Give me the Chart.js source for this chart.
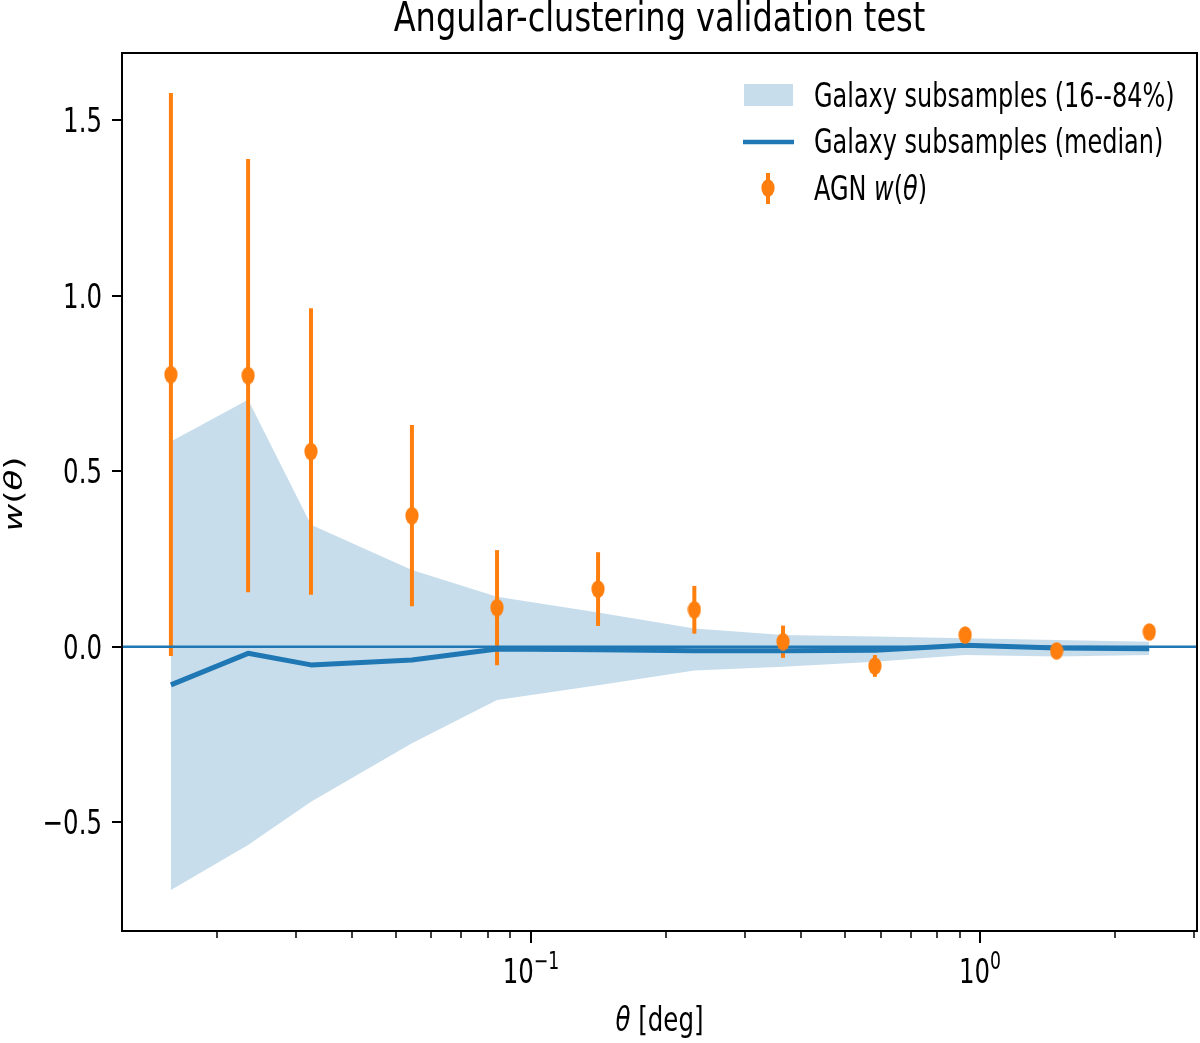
<!DOCTYPE html>
<html lang="en">
<head>
<meta charset="UTF-8">
<title>Angular-clustering validation test</title>
<script src="https://cdn.jsdelivr.net/npm/chart.js@4/dist/chart.umd.min.js"></script>
<style>
  html, body { margin: 0; padding: 0; background: #fff; width: 1200px; height: 1043px; overflow: hidden; }
  #chart { display: block; }
</style>
</head>
<body>
<canvas id="chart" width="1200" height="1043"></canvas>
<script>
// angular bins (deg)
const theta = [0.01578, 0.02344, 0.03236, 0.0543, 0.0840, 0.141, 0.231, 0.364, 0.583, 0.926, 1.48, 2.38];
// AGN w(theta) and symmetric errors
const agnW   = [0.775, 0.772, 0.556, 0.373, 0.111, 0.164, 0.105, 0.014, -0.055, 0.033, -0.012, 0.042];
const agnErr = [0.802, 0.617, 0.408, 0.258, 0.164, 0.105, 0.068, 0.046, 0.031, 0.015, 0.012, 0.012];
// galaxy subsamples: 16th / 84th percentiles and median
const galHi  = [0.584, 0.703, 0.347, 0.218, 0.142, 0.097, 0.052, 0.033, 0.029, 0.024, 0.019, 0.014];
const galLo  = [-0.693, -0.565, -0.442, -0.275, -0.152, -0.110, -0.068, -0.057, -0.043, -0.024, -0.028, -0.024];
const galMed = [-0.109, -0.019, -0.052, -0.038, -0.007, -0.009, -0.012, -0.012, -0.010, 0.004, -0.004, -0.006];

// axes
const xRange = [0.01228, 3.04];
const yRange = [-0.810, 1.691];
const xMajor = [0.1, 1];
const xMajorExp = ['\u22121', '0'];
const xMinor = [0.02, 0.03, 0.04, 0.05, 0.06, 0.07, 0.08, 0.09, 0.2, 0.3, 0.4, 0.5, 0.6, 0.7, 0.8, 0.9, 2, 3];
const yTicks = [-0.5, 0, 0.5, 1.0, 1.5];
const yTickLabels = ['\u22120.5', '0.0', '0.5', '1.0', '1.5'];

const BLUE = '#1f77b4';
const ORANGE = '#ff7f0e';
const BAND = 'rgba(31,119,180,0.25)';
const FONT = '"DejaVu Sans", "Liberation Sans", sans-serif';
const SX = 0.72; // the figure is squeezed horizontally

function pts(ys) { return theta.map((t, i) => ({ x: t, y: ys[i] })); }

// ellipse marker (squeezed circle)
const marker = document.createElement('canvas');
marker.width = 14; marker.height = 18;
(function () {
  const m = marker.getContext('2d');
  m.fillStyle = ORANGE;
  m.beginPath();
  m.ellipse(7, 9, 6.6, 8.7, 0, 0, Math.PI * 2);
  m.fill();
})();

// text helpers
function sText(ctx, str, x, y, align, font, sx) {
  sx = sx || SX;
  ctx.save();
  ctx.font = font;
  const w = ctx.measureText(str).width * sx;
  const left = align === 'center' ? x - w / 2 : align === 'right' ? x - w : x;
  ctx.translate(left, y);
  ctx.scale(sx, 1);
  ctx.textAlign = 'left';
  ctx.textBaseline = 'alphabetic';
  ctx.fillText(str, 0, 0);
  ctx.restore();
}
function richWidth(ctx, parts, size) {
  let w = 0;
  parts.forEach(p => { ctx.font = (p.it ? 'italic ' : '') + size + 'px ' + FONT; w += ctx.measureText(p.t).width; });
  return w;
}
function richDraw(ctx, parts, size, x0) {
  let x = x0;
  parts.forEach(p => {
    ctx.font = (p.it ? 'italic ' : '') + size + 'px ' + FONT;
    ctx.fillText(p.t, x, 0);
    x += ctx.measureText(p.t).width;
  });
}
const wTheta = [{ t: 'w', it: true }, { t: '(', it: false }, { t: '\u03b8', it: true }, { t: ')', it: false }];

const errorBars = {
  id: 'errorBars',
  afterDatasetDraw(chart, args) {
    if (args.index !== 3) return; // right after the band
    const { ctx, scales: { x, y } } = chart;
    ctx.save();
    ctx.strokeStyle = ORANGE;
    ctx.lineWidth = 4;
    theta.forEach((t, i) => {
      const px = x.getPixelForValue(t);
      ctx.beginPath();
      ctx.moveTo(px, y.getPixelForValue(agnW[i] - agnErr[i]));
      ctx.lineTo(px, y.getPixelForValue(agnW[i] + agnErr[i]));
      ctx.stroke();
    });
    ctx.restore();
  }
};

const frame = {
  id: 'frame',
  beforeDraw(chart) {
    const c = chart.ctx;
    c.save();
    c.fillStyle = '#fff';
    c.fillRect(0, 0, chart.width, chart.height);
    c.restore();
  },
  afterDraw(chart) {
    const { ctx, chartArea: a, scales: { x, y } } = chart;
    const tickFont = '34px ' + FONT;
    ctx.save();
    ctx.fillStyle = '#000';
    ctx.strokeStyle = '#000';

    // ticks
    ctx.lineWidth = 2;
    xMajor.forEach((v, i) => {
      const px = Math.round(x.getPixelForValue(v));
      ctx.beginPath(); ctx.moveTo(px, a.bottom); ctx.lineTo(px, a.bottom + 12); ctx.stroke();
      // 10^e label
      ctx.font = tickFont;
      const bw = ctx.measureText('10').width * SX;
      ctx.font = '24px ' + FONT;
      const ew = ctx.measureText(xMajorExp[i]).width * SX;
      const left = px - (bw + ew) / 2;
      sText(ctx, '10', left, 983, 'left', tickFont);
      sText(ctx, xMajorExp[i], left + bw, 969, 'left', '24px ' + FONT);
    });
    ctx.lineWidth = 1.5;
    xMinor.forEach(v => {
      const px = Math.round(x.getPixelForValue(v));
      ctx.beginPath(); ctx.moveTo(px, a.bottom); ctx.lineTo(px, a.bottom + 7); ctx.stroke();
    });
    ctx.lineWidth = 2;
    yTicks.forEach((v, i) => {
      const py = Math.round(y.getPixelForValue(v));
      ctx.beginPath(); ctx.moveTo(a.left - 10, py); ctx.lineTo(a.left, py); ctx.stroke();
      sText(ctx, yTickLabels[i], a.left - 20, py + 12.4, 'right', tickFont);
    });

    // spines
    ctx.lineWidth = 2;
    ctx.strokeRect(a.left, a.top, a.right - a.left, a.bottom - a.top);

    // title
    sText(ctx, 'Angular-clustering validation test', (a.left + a.right) / 2, 31, 'center', '40px ' + FONT, 0.8);

    // x label: theta [deg]
    const xl = [{ t: '\u03b8', it: true }, { t: ' [deg]', it: false }];
    ctx.save();
    const xw = richWidth(ctx, xl, 34) * SX;
    ctx.translate((a.left + a.right) / 2 - xw / 2, 1031);
    ctx.scale(SX, 1);
    richDraw(ctx, xl, 34, 0);
    ctx.restore();

    // y label: w(theta), rotated
    ctx.save();
    const yw = richWidth(ctx, wTheta, 34);
    ctx.translate(22, (a.top + a.bottom) / 2 + 2);
    ctx.rotate(-Math.PI / 2);
    ctx.scale(1, SX);
    richDraw(ctx, wTheta, 34, -yw / 2);
    ctx.restore();

    // legend
    const lx = 814;
    ctx.fillStyle = BAND;
    ctx.fillRect(744, 84, 49, 22);
    ctx.strokeStyle = BLUE;
    ctx.lineWidth = 4.5;
    ctx.beginPath(); ctx.moveTo(743, 142); ctx.lineTo(794, 142); ctx.stroke();
    ctx.strokeStyle = ORANGE;
    ctx.lineWidth = 4;
    ctx.beginPath(); ctx.moveTo(768, 173); ctx.lineTo(768, 204); ctx.stroke();
    ctx.drawImage(marker, 768 - 7, 188 - 9);
    ctx.fillStyle = '#000';
    sText(ctx, 'Galaxy subsamples (16--84%)', lx, 106.5, 'left', '34px ' + FONT, 0.705);
    sText(ctx, 'Galaxy subsamples (median)', lx, 152.5, 'left', '34px ' + FONT, 0.705);
    ctx.save();
    ctx.translate(lx, 199.5);
    ctx.scale(0.705, 1);
    ctx.font = '34px ' + FONT;
    ctx.fillText('AGN ', 0, 0);
    const agnW0 = ctx.measureText('AGN ').width;
    richDraw(ctx, wTheta, 34, agnW0);
    ctx.restore();

    ctx.restore();
  }
};

new Chart(document.getElementById('chart').getContext('2d'), {
  type: 'line',
  data: {
    datasets: [
      { label: 'AGN w(theta)', data: pts(agnW), showLine: false, pointStyle: marker, pointRadius: 8, pointHoverRadius: 8 },
      { label: 'zero', data: [{ x: xRange[0], y: 0 }, { x: xRange[1], y: 0 }], borderColor: BLUE, borderWidth: 2.5, pointRadius: 0 },
      { label: 'Galaxy subsamples (median)', data: pts(galMed), borderColor: BLUE, borderWidth: 5, pointRadius: 0, borderJoinStyle: 'round' },
      { label: 'Galaxy subsamples (16--84%)', data: pts(galHi), borderColor: 'rgba(0,0,0,0)', backgroundColor: BAND, fill: '+1', pointRadius: 0 },
      { label: 'lower', data: pts(galLo), borderColor: 'rgba(0,0,0,0)', pointRadius: 0 }
    ]
  },
  options: {
    responsive: false,
    animation: false,
    devicePixelRatio: 1,
    layout: { autoPadding: false, padding: { left: 122, right: 3, top: 53, bottom: 112 } },
    elements: { line: { tension: 0 } },
    plugins: { legend: { display: false }, tooltip: { enabled: false } },
    scales: {
      x: { type: 'logarithmic', min: xRange[0], max: xRange[1], bounds: 'data', display: false },
      y: { type: 'linear', min: yRange[0], max: yRange[1], bounds: 'data', display: false }
    }
  },
  plugins: [errorBars, frame]
});
</script>
</body>
</html>
